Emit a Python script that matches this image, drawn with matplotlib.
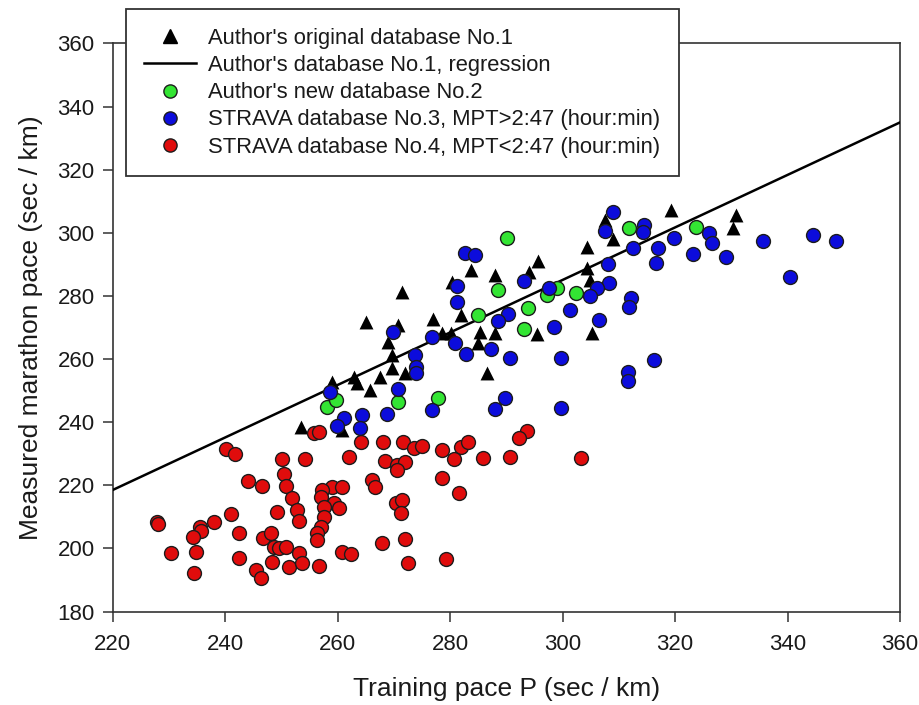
import matplotlib
matplotlib.use("Agg")
import matplotlib.pyplot as plt
from matplotlib.lines import Line2D

# Author's original database No.1 (triangles)
tri_x = [283.7, 271.4, 280.3, 265.1, 270.7, 277.0, 282.0, 268.9, 278.5, 280.2,
         285.3, 285.0, 287.9, 287.9, 269.6, 259.0, 262.9, 263.5, 265.8, 267.6,
         269.7, 272.0, 286.6, 253.5, 260.8, 319.3, 307.5, 308.9, 304.3, 295.7,
         294.1, 304.3, 304.9, 295.4, 305.3, 330.8, 330.3]
tri_y = [288.2, 281.3, 284.5, 271.6, 270.8, 272.6, 274.0, 265.5, 268.2, 268.2,
         268.7, 265.0, 268.4, 286.6, 261.3, 252.8, 254.4, 252.3, 250.2, 254.4,
         257.1, 255.5, 255.7, 238.6, 237.5, 307.2, 304.1, 298.0, 295.4, 291.2,
         287.7, 288.8, 285.1, 267.9, 268.4, 305.7, 301.4]

# regression line of database No.1
reg_x = [220, 360]
reg_y = [218.5, 335.0]

# Author's new database No.2
green_x = [285.0, 288.5, 290.1, 311.9, 299.0, 297.2, 302.3, 293.8, 293.2, 323.8,
           258.2, 259.8, 270.8, 277.9]
green_y = [274.0, 281.9, 298.3, 301.4, 282.6, 280.3, 280.8, 276.1, 269.5, 301.9,
           244.7, 247.0, 246.5, 247.8]

# STRAVA database No.3, MPT > 2:47
blue_x = [282.6, 284.4, 281.2, 281.3, 269.8, 276.7, 280.9, 282.8, 273.8, 287.3,
          258.6, 261.1, 259.9, 264.3, 263.9, 268.8, 270.8, 273.9, 273.9, 276.7,
          287.9, 289.8, 299.8, 311.6, 311.6, 316.3, 290.6, 299.8, 309.0, 307.5,
          314.4, 314.3, 319.9, 312.6, 317.0, 316.6, 308.0, 308.3, 306.1, 304.9,
          297.5, 293.2, 312.2, 311.8, 301.3, 290.3, 288.5, 306.4, 298.4, 326.1,
          326.6, 323.2, 329.0, 335.6, 344.6, 348.6, 340.4]
blue_y = [293.5, 293.0, 283.2, 278.2, 268.5, 267.1, 265.0, 261.5, 261.3, 263.2,
          249.7, 241.2, 238.8, 242.3, 238.3, 242.6, 250.4, 257.6, 255.5, 243.9,
          244.1, 247.6, 244.4, 256.0, 253.1, 259.8, 260.2, 260.4, 306.7, 300.7,
          302.5, 300.4, 298.5, 295.1, 295.3, 290.3, 290.0, 284.2, 282.4, 280.0,
          282.6, 284.8, 279.3, 276.6, 275.5, 274.3, 272.2, 272.4, 270.2, 300.0,
          296.9, 293.2, 292.4, 297.4, 299.3, 297.5, 286.0]

# STRAVA database No.4, MPT < 2:47
red_x = [240.1, 241.7, 250.2, 254.2, 244.0, 246.6, 250.5, 250.8, 251.9, 252.7,
         253.1, 249.3, 241.1, 238.0, 227.9, 228.1, 235.5, 235.8, 234.3, 242.5,
         246.8, 248.1, 248.7, 249.6, 250.8, 253.1, 230.3, 234.8, 242.5, 248.3,
         251.4, 253.7, 245.5, 246.4, 234.4,
         255.8, 256.7, 264.1, 268.1, 271.7, 273.5, 275.0, 278.5, 282.0, 283.2,
         280.7, 285.9, 262.0, 268.5, 270.5, 272.0, 270.5, 278.5, 281.6, 266.1,
         266.7, 259.0, 260.8, 257.3, 257.0, 259.3, 260.2, 257.6, 257.6, 257.0,
         256.4, 256.4, 270.3, 271.4, 271.2, 267.9, 271.9, 260.7, 262.4, 256.7,
         272.5, 279.2,
         293.7, 292.2, 290.6, 303.3]
red_y = [231.5, 229.8, 228.3, 228.3, 221.5, 219.8, 223.5, 219.9, 215.9, 212.2,
         208.8, 211.6, 210.9, 208.5, 208.5, 207.8, 206.9, 205.6, 203.5, 205.0,
         203.2, 205.0, 200.5, 200.0, 200.5, 198.6, 198.4, 199.0, 196.9, 195.8,
         194.2, 195.3, 193.2, 190.5, 192.1,
         236.7, 237.0, 233.8, 233.8, 233.6, 231.7, 232.4, 231.2, 232.2, 233.8,
         228.3, 228.7, 229.1, 227.7, 226.4, 227.5, 224.8, 222.2, 217.6, 221.7,
         219.6, 219.6, 219.6, 218.5, 216.4, 214.3, 212.7, 213.2, 210.0, 206.9,
         204.8, 202.7, 214.3, 215.3, 211.3, 201.6, 202.9, 199.0, 198.1, 194.5,
         195.3, 196.5,
         237.3, 234.9, 229.1, 228.7]

labels = ["Author's original database No.1",
          "Author's database No.1, regression",
          "Author's new database No.2",
          "STRAVA database No.3, MPT>2:47 (hour:min)",
          "STRAVA database No.4, MPT<2:47 (hour:min)"]

ticks = [220, 240, 260, 280, 300, 320, 340, 360]
yticks = [180, 200, 220, 240, 260, 280, 300, 320, 340, 360]

plt.rcParams['font.family'] = ['Liberation Sans', 'DejaVu Sans']

GREEN = '#33e533'
BLUE = '#0c0cdc'
RED = '#e00c0c'
EDGE = '#1c1c1c'
MS = 100

fig = plt.figure(figsize=(9.2, 7.05), dpi=100)
ax = fig.add_axes([0.1224, 0.1326, 0.8559, 0.8057])

ax.scatter(tri_x, tri_y, marker='^', s=MS, color='black', linewidths=0, zorder=2)
ax.plot(reg_x, reg_y, color='black', lw=1.8, zorder=3)
ax.scatter(green_x, green_y, marker='o', s=MS, color=GREEN, edgecolors=EDGE, linewidths=1.0, zorder=4)
ax.scatter(blue_x, blue_y, marker='o', s=MS, color=BLUE, edgecolors=EDGE, linewidths=1.0, zorder=5)
ax.scatter(red_x, red_y, marker='o', s=MS, color=RED, edgecolors=EDGE, linewidths=1.0, zorder=6)

ax.set_xlim(220, 360)
ax.set_ylim(180, 360)
ax.set_xticks(ticks)
ax.set_yticks(yticks)
ax.tick_params(axis='both', direction='out', length=7, width=1.1, color='#333333',
               labelsize=16, labelcolor='#1a1a1a', top=False, right=False)
ax.tick_params(axis='x', pad=9)
ax.tick_params(axis='y', pad=6)
for sp in ax.spines.values():
    sp.set_color('#333333')
    sp.set_linewidth(1.2)

ax.set_xlabel('Training pace P (sec / km)', fontsize=19, color='#1a1a1a', labelpad=16)
ax.set_ylabel('Measured marathon pace (sec / km)', fontsize=19, color='#1a1a1a', labelpad=10)

handles = [
    Line2D([], [], marker='^', color='black', ls='none', markersize=9.5),
    Line2D([], [], color='black', lw=1.8),
    Line2D([], [], marker='o', ls='none', markersize=9.5, markerfacecolor=GREEN, markeredgecolor=EDGE),
    Line2D([], [], marker='o', ls='none', markersize=9.5, markerfacecolor=BLUE, markeredgecolor=EDGE),
    Line2D([], [], marker='o', ls='none', markersize=9.5, markerfacecolor=RED, markeredgecolor=EDGE),
]
leg = fig.legend(handles, labels, loc='upper left', bbox_to_anchor=(125.7 / 920, 1 - 9.3 / 705),
                 bbox_transform=fig.transFigure, fontsize=15.8, frameon=True, fancybox=False,
                 borderaxespad=0, borderpad=0.85, labelspacing=0.28, handlelength=2.35,
                 handletextpad=0.55, framealpha=1)
leg.get_frame().set_edgecolor('#333333')
leg.get_frame().set_linewidth(1.3)
for t in leg.get_texts():
    t.set_color('#1a1a1a')

fig.savefig('out.png', dpi=100)
plt.close(fig)
